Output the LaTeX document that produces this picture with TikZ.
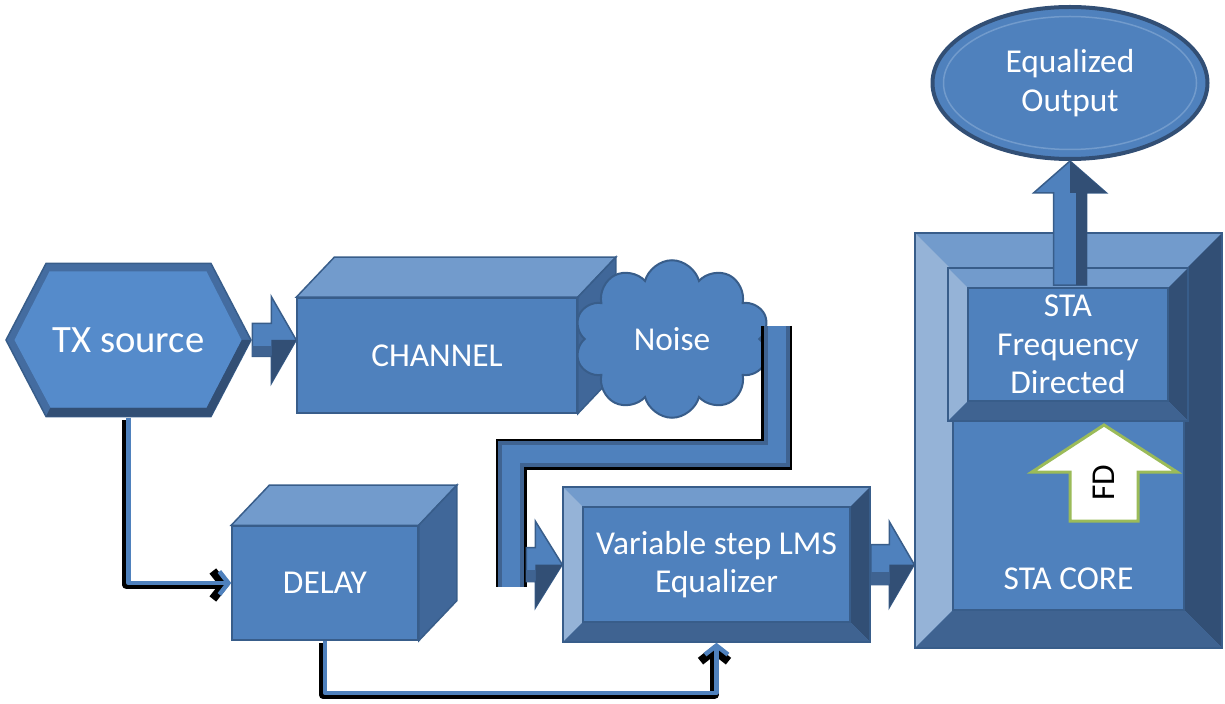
\documentclass[tikz,border=0pt]{standalone}
\usepackage{fontspec}
\setmainfont{Carlito}
\usepackage{tikz}
\usetikzlibrary{arrows.meta,positioning,calc,shapes.geometric,shapes.symbols}
\definecolor{face}{RGB}{79,129,189}
\definecolor{faceHi}{RGB}{85,139,203}
\definecolor{edge}{RGB}{56,93,138}
\definecolor{bvTop}{RGB}{114,155,204}
\definecolor{bvLeft}{RGB}{149,179,215}
\definecolor{bvRight}{RGB}{50,79,117}
\definecolor{bvBot}{RGB}{63,99,145}
\definecolor{hexRim}{RGB}{68,108,160}
\definecolor{sideFace}{RGB}{64,103,153}
\definecolor{fdGreen}{RGB}{155,187,89}

% top and right faces of a cuboid node
\newcommand{\cubefaces}[1]{%
  \filldraw[topface] (#1.north west) -- ++(7.6mm,8mm) -- ([shift={(7.6mm,8mm)}]#1.north east) -- (#1.north east) -- cycle;
  \filldraw[sideface] (#1.north east) -- ++(7.6mm,8mm) -- ([shift={(7.6mm,8mm)}]#1.south east) -- (#1.south east) -- cycle;}
% block arrow to the right: from, tip, shaft half, head half, head length
\newcommand{\blockright}[5]{%
  \filldraw[blockarr] ($(#1|-#2)+(0,-#3)$) -- ($(#2)+(-#5,-#3)$) -- ($(#2)+(-#5,-#4)$) -- (#2)
    -- ($(#2)+(-#5,#4)$) -- ($(#2)+(-#5,#3)$) -- ($(#1|-#2)+(0,#3)$) -- cycle;
  \fill[bvBot] ($(#1|-#2)+(0,#3*0.35)$) rectangle ($(#2)+(-#5,#3)$);
  \fill[bvRight] (#2) -- ($(#2)+(-#5,#4)$) -- ($(#2)+(-#5,0)$) -- cycle;}
% block arrow upwards: from, tip, shaft half, head half, head length
\newcommand{\blockup}[5]{%
  \filldraw[blockarr] ($(#2|-#1)+(-#3,0)$) -- ($(#2)+(-#3,#5)$) -- ($(#2)+(-#4,#5)$) -- (#2)
    -- ($(#2)+(#4,#5)$) -- ($(#2)+(#3,#5)$) -- ($(#2|-#1)+(#3,0)$) -- cycle;
  \fill[bvRight] ($(#2|-#1)+(#3*0.35,0)$) rectangle ($(#2)+(#3,#5)$);
  \fill[bvRight] (#2) -- ($(#2)+(#4,#5)$) -- ($(#2)+(0,#5)$) -- cycle;}

\begin{document}
\begin{tikzpicture}[x=0.2mm,y=-0.2mm,
  txt/.style={font=\fontsize{19}{22}\selectfont,text=white,align=center},
  cube/.style={txt,rectangle,fill=face,draw=edge,line width=0.3mm},
  topface/.style={fill=bvTop,draw=edge,line width=0.3mm},
  sideface/.style={fill=sideFace,draw=edge,line width=0.3mm},
  blockarr/.style={fill=face,draw=edge,line width=0.3mm},
  bevel/.style={txt,rectangle,fill=face,draw=edge,line width=0.3mm,
    path picture={
      \coordinate (nw) at (path picture bounding box.north west);
      \coordinate (ne) at (path picture bounding box.north east);
      \coordinate (sw) at (path picture bounding box.south west);
      \coordinate (se) at (path picture bounding box.south east);
      \fill[bvTop] (nw) -- (ne) -- ([xshift=-#1,yshift=-#1]ne) -- ([xshift=#1,yshift=-#1]nw) -- cycle;
      \fill[bvLeft] (nw) -- (sw) -- ([xshift=#1,yshift=#1]sw) -- ([xshift=#1,yshift=-#1]nw) -- cycle;
      \fill[bvRight] (ne) -- (se) -- ([xshift=-#1,yshift=#1]se) -- ([xshift=-#1,yshift=-#1]ne) -- cycle;
      \fill[bvBot] (sw) -- (se) -- ([xshift=-#1,yshift=#1]se) -- ([xshift=#1,yshift=#1]sw) -- cycle;
      \draw[edge,line width=0.3mm] ([xshift=#1,yshift=-#1]nw) rectangle ([xshift=-#1,yshift=#1]se);}},
  txhex/.style={txt,font=\fontsize{22}{26}\selectfont,rectangle,minimum width=49.4mm,minimum height=31mm,
    path picture={
      \coordinate (hc) at (path picture bounding box.center);
      \filldraw[fill=hexRim,draw=edge,line width=0.3mm] ([xshift=-24.5mm]hc) -- ([xshift=-16.5mm,yshift=15.3mm]hc)
        -- ([xshift=16.5mm,yshift=15.3mm]hc) -- ([xshift=24.5mm]hc) -- ([xshift=16.5mm,yshift=-15.3mm]hc)
        -- ([xshift=-16.5mm,yshift=-15.3mm]hc) -- cycle;
      \fill[bvRight] ([xshift=24.5mm]hc) -- ([xshift=16.5mm,yshift=-15.3mm]hc) -- ([xshift=-16.5mm,yshift=-15.3mm]hc)
        -- ([xshift=-15.6mm,yshift=-13.5mm]hc) -- ([xshift=15.6mm,yshift=-13.5mm]hc) -- ([xshift=22.6mm]hc) -- cycle;
      \fill[faceHi] ([xshift=-22.8mm]hc) -- ([xshift=-15.8mm,yshift=13.7mm]hc) -- ([xshift=15.6mm,yshift=13.7mm]hc)
        -- ([xshift=22.6mm]hc) -- ([xshift=15.6mm,yshift=-13.5mm]hc) -- ([xshift=-15.6mm,yshift=-13.5mm]hc) -- cycle;}},
  cloudy/.style={txt,cloud,cloud puffs=10,cloud ignores aspect,minimum width=39mm,minimum height=31.5mm,
    fill=face,draw=edge,line width=0.4mm},
  outnode/.style={txt,ellipse,fill=face,draw=bvRight,line width=0.8mm,minimum width=55mm,minimum height=30.4mm,
    path picture={\draw[bvTop,line width=0.3mm] (path picture bounding box.center) ellipse (25.3mm and 13.3mm);}},
  link/.style={draw=face,line width=0.9mm,line join=round,-{Straight Barb[length=1.8mm,width=4.6mm]}},
  linkshadow/.style={draw=black,line width=1.7mm,line join=round,-{Straight Barb[length=2.2mm,width=5.6mm]},
    transform canvas={shift={(-0.4mm,-0.4mm)}}},
  pipeout/.style={draw=black,line width=6.2mm},
  pipemid/.style={draw=bvBot,line width=5.2mm},
  pipein/.style={draw=face,line width=3.6mm},
]
\useasboundingbox (0,0) rectangle (1225,704);

% source, channel and noise
\node[txhex] (tx) at (128.5,340) {TX source};
\node[cube,minimum width=56mm,minimum height=23mm] (chan) at (437,355.5) {CHANNEL};
\cubefaces{chan}
\node[cloudy] (noise) at (672,339) {Noise};

% delay and equalizer
\node[cube,minimum width=37.2mm,minimum height=22.8mm] (delay) at (325,583) {DELAY};
\cubefaces{delay}
\node[bevel=4mm,minimum width=61.4mm,minimum height=31mm] (eq) at (716.5,564.5) {Variable step LMS\\Equalizer};

% STA core
\node[bevel=7.6mm,minimum width=61.4mm,minimum height=83mm] (core) at (1068.5,440.5) {};
\node[bevel=4mm,minimum width=48mm,minimum height=30.6mm] (sfd) at (1068,344.5) {STA\\Frequency\\Directed};
\node[txt] (corelbl) at ($(core.south)+(0,-70)$) {STA CORE};
\coordinate (fdc) at ($(core.center)+(35.5,42.5)$);
\filldraw[fill=white,draw=fdGreen,line width=0.6mm] ($(fdc)+(0,-58)$) -- ($(fdc)+(73,-11)$) -- ($(fdc)+(34,-11)$)
  -- ($(fdc)+(34,38)$) -- ($(fdc)+(-34,38)$) -- ($(fdc)+(-34,-11)$) -- ($(fdc)+(-72,-11)$) -- cycle;
\node[font=\fontsize{19}{22}\selectfont,rotate=90] (fdlbl) at (fdc) {FD};

% output
\node[outnode] (out) at (1070,83) {Equalized\\Output};
\coordinate (fdtop) at ($(sfd.north)+(0,18)$);
\blockup{fdtop}{out.south}{16.5}{36.5}{32}

% block arrows
\coordinate (chin) at (chan.west |- tx.east);
\blockright{tx.east}{chin}{16.5}{43.5}{25}
\coordinate (corein) at (core.west |- eq.east);
\blockright{eq.east}{corein}{20}{43}{25}

% noise pipe into the equalizer
\coordinate (n0) at ([xshift=3.2mm,yshift=2.6mm]noise.east);
\coordinate (n1) at ($(eq.west)+(-51,-110.5)$);
\coordinate (n2) at ($(eq.west)+(-51,22.5)$);
\foreach \s in {pipeout,pipemid,pipein} \draw[\s] (n0) |- (n1) -- (n2);
\coordinate (n3) at ($(eq.west)+(-36,0)$);
\blockright{n3}{eq.west}{17}{43.5}{27}

% thin links
\draw[linkshadow] (tx.south) |- (delay.west);
\draw[link] (tx.south) |- (delay.west);
\draw[linkshadow] (delay.south) -- ++(0,52) -| (eq.south);
\draw[link] (delay.south) -- ++(0,52) -| (eq.south);
\end{tikzpicture}
\end{document}
